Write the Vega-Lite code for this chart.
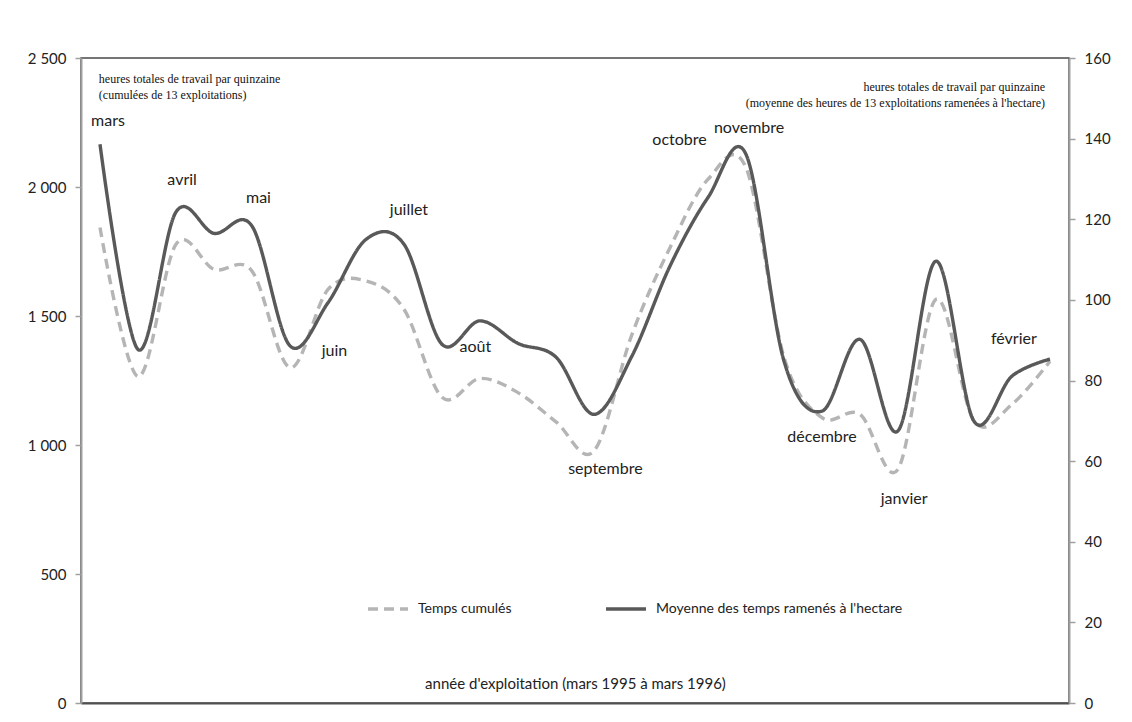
{
  "$schema": "https://vega.github.io/schema/vega-lite/v6.json",
  "width": 988,
  "height": 645,
  "autosize": "none",
  "padding": {"left": 81, "top": 58, "right": 63, "bottom": 19},
  "background": "white",
  "config": {
    "view": {"stroke": "#4a4a4a", "strokeWidth": 1.5},
    "font": "Lato",
    "axis": {"labelFont": "Lato", "titleFont": "Lato", "grid": false}
  },
  "datasets": {
    "series": [
      {"i": 0, "serie": "Temps cumulés", "v": 1843}, {"i": 1, "serie": "Temps cumulés", "v": 1265},
      {"i": 2, "serie": "Temps cumulés", "v": 1778}, {"i": 3, "serie": "Temps cumulés", "v": 1681},
      {"i": 4, "serie": "Temps cumulés", "v": 1674}, {"i": 5, "serie": "Temps cumulés", "v": 1300},
      {"i": 6, "serie": "Temps cumulés", "v": 1603}, {"i": 7, "serie": "Temps cumulés", "v": 1636},
      {"i": 8, "serie": "Temps cumulés", "v": 1526}, {"i": 9, "serie": "Temps cumulés", "v": 1185},
      {"i": 10, "serie": "Temps cumulés", "v": 1258}, {"i": 11, "serie": "Temps cumulés", "v": 1203},
      {"i": 12, "serie": "Temps cumulés", "v": 1090}, {"i": 13, "serie": "Temps cumulés", "v": 977},
      {"i": 14, "serie": "Temps cumulés", "v": 1429}, {"i": 15, "serie": "Temps cumulés", "v": 1765},
      {"i": 16, "serie": "Temps cumulés", "v": 2030}, {"i": 17, "serie": "Temps cumulés", "v": 2075},
      {"i": 18, "serie": "Temps cumulés", "v": 1340}, {"i": 19, "serie": "Temps cumulés", "v": 1106},
      {"i": 20, "serie": "Temps cumulés", "v": 1119}, {"i": 21, "serie": "Temps cumulés", "v": 906},
      {"i": 22, "serie": "Temps cumulés", "v": 1565}, {"i": 23, "serie": "Temps cumulés", "v": 1093},
      {"i": 24, "serie": "Temps cumulés", "v": 1158}, {"i": 25, "serie": "Temps cumulés", "v": 1325},
      {"i": 0, "serie": "Moyenne des temps ramenés à l'hectare", "v": 138.6}, {"i": 1, "serie": "Moyenne des temps ramenés à l'hectare", "v": 87.7},
      {"i": 2, "serie": "Moyenne des temps ramenés à l'hectare", "v": 121.8}, {"i": 3, "serie": "Moyenne des temps ramenés à l'hectare", "v": 116.5},
      {"i": 4, "serie": "Moyenne des temps ramenés à l'hectare", "v": 118.3}, {"i": 5, "serie": "Moyenne des temps ramenés à l'hectare", "v": 88.6},
      {"i": 6, "serie": "Moyenne des temps ramenés à l'hectare", "v": 99.3}, {"i": 7, "serie": "Moyenne des temps ramenés à l'hectare", "v": 115.0},
      {"i": 8, "serie": "Moyenne des temps ramenés à l'hectare", "v": 113.8}, {"i": 9, "serie": "Moyenne des temps ramenés à l'hectare", "v": 89.0},
      {"i": 10, "serie": "Moyenne des temps ramenés à l'hectare", "v": 94.8}, {"i": 11, "serie": "Moyenne des temps ramenés à l'hectare", "v": 89.2},
      {"i": 12, "serie": "Moyenne des temps ramenés à l'hectare", "v": 85.8}, {"i": 13, "serie": "Moyenne des temps ramenés à l'hectare", "v": 71.6},
      {"i": 14, "serie": "Moyenne des temps ramenés à l'hectare", "v": 86.1}, {"i": 15, "serie": "Moyenne des temps ramenés à l'hectare", "v": 108.4},
      {"i": 16, "serie": "Moyenne des temps ramenés à l'hectare", "v": 125.4}, {"i": 17, "serie": "Moyenne des temps ramenés à l'hectare", "v": 136.1},
      {"i": 18, "serie": "Moyenne des temps ramenés à l'hectare", "v": 84.8}, {"i": 19, "serie": "Moyenne des temps ramenés à l'hectare", "v": 72.4},
      {"i": 20, "serie": "Moyenne des temps ramenés à l'hectare", "v": 90.2}, {"i": 21, "serie": "Moyenne des temps ramenés à l'hectare", "v": 67.5},
      {"i": 22, "serie": "Moyenne des temps ramenés à l'hectare", "v": 109.6}, {"i": 23, "serie": "Moyenne des temps ramenés à l'hectare", "v": 69.9},
      {"i": 24, "serie": "Moyenne des temps ramenés à l'hectare", "v": 81.1}, {"i": 25, "serie": "Moyenne des temps ramenés à l'hectare", "v": 85.3}
    ],
    "months": [
      {"label": "mars", "xi": 0.21, "v": 144.3},
      {"label": "avril", "xi": 2.16, "v": 129.7},
      {"label": "mai", "xi": 4.17, "v": 125.2},
      {"label": "juin", "xi": 6.17, "v": 87.2},
      {"label": "juillet", "xi": 8.13, "v": 122.2},
      {"label": "août", "xi": 9.88, "v": 88.2},
      {"label": "septembre", "xi": 13.3, "v": 58.0},
      {"label": "octobre", "xi": 15.25, "v": 139.6},
      {"label": "novembre", "xi": 17.08, "v": 142.6},
      {"label": "décembre", "xi": 19.0, "v": 65.9},
      {"label": "janvier", "xi": 21.16, "v": 50.5},
      {"label": "février", "xi": 24.05, "v": 90.2}
    ],
    "notesLeft": [
      {"t": "heures totales de travail par quinzaine", "xi": -0.03, "v": 2418},
      {"t": "(cumulées de 13 exploitations)", "xi": -0.03, "v": 2357}
    ],
    "notesRight": [
      {"t": "heures totales de travail par quinzaine", "xi": 24.87, "v": 2388},
      {"t": "(moyenne des heures de 13 exploitations ramenées à l'hectare)", "xi": 24.87, "v": 2325}
    ]
  },
  "layer": [
    {
      "data": {"name": "series"},
      "transform": [{"filter": "datum.serie === 'Temps cumulés'"}],
      "mark": {"type": "line", "interpolate": "cardinal", "strokeWidth": 3.4},
      "encoding": {
        "x": {"field": "i", "type": "quantitative", "scale": {"domain": [-0.5, 25.5], "nice": false, "zero": false},
              "axis": {"orient": "bottom", "labels": false, "ticks": false, "domainColor": "#505050", "domainWidth": 2,
                       "title": "année d'exploitation (mars 1995 à mars 1996)", "titleY": -20, "titleBaseline": "middle",
                       "titleFontSize": 15, "titleFontWeight": "normal", "titleColor": "#222222"}},
        "y": {"field": "v", "type": "quantitative", "scale": {"domain": [0, 2500], "nice": false},
              "axis": {"orient": "left", "values": [0, 500, 1000, 1500, 2000, 2500], "title": null,
                       "labelExpr": "replace(format(datum.value, ','), ',', ' ')",
                       "domainColor": "#a0a0a0", "domainWidth": 2, "tickColor": "#a0a0a0", "tickWidth": 1.5, "tickSize": 6,
                       "labelFontSize": 15, "labelColor": "#222222", "labelPadding": 9}},
        "color": {"field": "serie", "type": "nominal",
                  "scale": {"domain": ["Temps cumulés", "Moyenne des temps ramenés à l'hectare"], "range": ["#b5b5b5", "#595959"]},
                  "legend": {"title": null, "orient": "none", "direction": "horizontal", "legendX": 285, "legendY": 529,
                             "symbolType": "stroke", "symbolSize": 1600, "symbolStrokeWidth": 3.4, "labelLimit": 0,
                             "labelFontSize": 14, "labelColor": "#222222", "labelOffset": 8, "columnPadding": 87, "labelFont": "Lato"}},
        "strokeDash": {"field": "serie", "type": "nominal",
                       "scale": {"domain": ["Temps cumulés", "Moyenne des temps ramenés à l'hectare"], "range": [[10, 6], [1, 0]]},
                       "legend": {"title": null, "orient": "none", "direction": "horizontal", "legendX": 285, "legendY": 529,
                             "symbolType": "stroke", "symbolSize": 1600, "symbolStrokeWidth": 3.4, "labelLimit": 0,
                             "labelFontSize": 14, "labelColor": "#222222", "labelOffset": 8, "columnPadding": 87, "labelFont": "Lato"}}
      }
    },
    {
      "data": {"name": "series"},
      "transform": [{"filter": "datum.serie !== 'Temps cumulés'"}],
      "mark": {"type": "line", "interpolate": "cardinal", "strokeWidth": 3.4},
      "encoding": {
        "x": {"field": "i", "type": "quantitative"},
        "y": {"field": "v", "type": "quantitative", "scale": {"domain": [0, 160], "nice": false},
              "axis": {"orient": "right", "values": [0, 20, 40, 60, 80, 100, 120, 140, 160], "title": null,
                       "domainColor": "#a0a0a0", "domainWidth": 2, "tickColor": "#a0a0a0", "tickWidth": 1.5, "tickSize": 6,
                       "labelFontSize": 15, "labelColor": "#222222", "labelPadding": 9}},
        "color": {"field": "serie", "type": "nominal"},
        "strokeDash": {"field": "serie", "type": "nominal"}
      }
    },
    {
      "data": {"name": "months"},
      "mark": {"type": "text", "font": "Lato", "fontSize": 16, "color": "#222222", "baseline": "middle", "align": "center"},
      "encoding": {
        "x": {"field": "xi", "type": "quantitative"},
        "y": {"field": "v", "type": "quantitative", "scale": {"domain": [0, 160], "nice": false}, "axis": null},
        "text": {"field": "label"}
      }
    },
    {
      "data": {"name": "notesLeft"},
      "mark": {"type": "text", "font": "Liberation Serif", "fontSize": 12, "color": "#111111", "baseline": "middle", "align": "left"},
      "encoding": {
        "x": {"field": "xi", "type": "quantitative"},
        "y": {"field": "v", "type": "quantitative", "scale": {"domain": [0, 2500], "nice": false}, "axis": null},
        "text": {"field": "t"}
      }
    },
    {
      "data": {"name": "notesRight"},
      "mark": {"type": "text", "font": "Liberation Serif", "fontSize": 12, "color": "#111111", "baseline": "middle", "align": "right"},
      "encoding": {
        "x": {"field": "xi", "type": "quantitative"},
        "y": {"field": "v", "type": "quantitative", "scale": {"domain": [0, 2500], "nice": false}, "axis": null},
        "text": {"field": "t"}
      }
    }
  ],
  "resolve": {"scale": {"y": "independent"}}
}
